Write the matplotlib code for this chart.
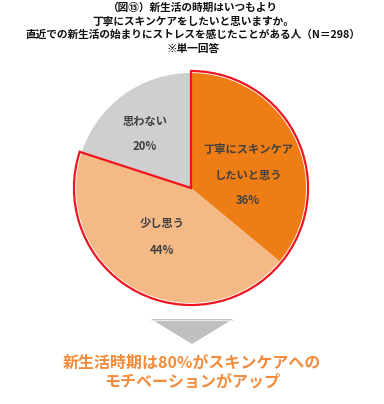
import matplotlib
matplotlib.use("Agg")
import matplotlib.pyplot as plt
from matplotlib.patches import Wedge, Polygon

plt.rcParams['font.family'] = ['Noto Sans CJK JP', 'DejaVu Sans']

# Survey answers (share of respondents, %)
categories = ['丁寧にスキンケア\nしたいと思う', '少し思う', '思わない']
values = [36, 44, 20]
colors = ['#ED7D14', '#F4B985', '#D0CECE']

title_lines = ['（図⑮）新生活の時期はいつもより',
               '丁寧にスキンケアをしたいと思いますか。',
               '直近での新生活の始まりにストレスを感じたことがある人（N＝298）',
               '※単一回答']
summary_lines = ['新生活時期は80%がスキンケアへの', 'モチベーションがアップ']

W, H = 384, 404
fig = plt.figure(figsize=(W / 100, H / 100), dpi=100)
ax = fig.add_axes([0, 0, 1, 1])

def py(y):
    # pixel row (from top) to axes y
    return H - y

cx, cy, R = 191, py(188), 115

wedges, _ = ax.pie(values, colors=colors, startangle=90, counterclock=False,
                   center=(cx, cy), radius=R, frame=True,
                   wedgeprops=dict(linewidth=0))
ax.set_xlim(0, W)
ax.set_ylim(0, H)
ax.set_aspect('equal')
ax.axis('off')

# Red outline around the "think so" answers (first two slices)
share = sum(values[:2]) / sum(values)
ax.add_patch(Wedge((cx, cy), R + 2, 90 - 360 * share, 90, fill=False,
                   edgecolor='#F0141E', linewidth=1.6, zorder=5))

# Slice labels
label_pos = [(248, 175), (162, 237), (145, 134)]
for (lx, ly), cat, v in zip(label_pos, categories, values):
    txt = cat + '\n' + f'{v}%'
    ax.text(lx, py(ly), txt, ha='center', va='center', fontsize=8.1,
            fontweight='bold', color='#404040', linespacing=2.3, zorder=6)

# Title
for i, line in enumerate(title_lines):
    ax.text(W / 2 + 1, py(8 + i * 13.5), line, ha='center', va='center',
            fontsize=7.7, fontweight='bold', color='#111111')

# Down arrow
ax.add_patch(Polygon([(151, py(319)), (233, py(319)), (192, py(344))],
                     closed=True, facecolor='#BFBFBF', edgecolor='none'))
ax.plot([151, 233], [py(319.5), py(319.5)], color='#E6E6E6', lw=1)

# Summary
for i, line in enumerate(summary_lines):
    ax.text(W / 2, py(363 + i * 19), line, ha='center', va='center',
            fontsize=11.5, fontweight='bold', color='#F28C3C')

fig.savefig('out.png', dpi=100)
